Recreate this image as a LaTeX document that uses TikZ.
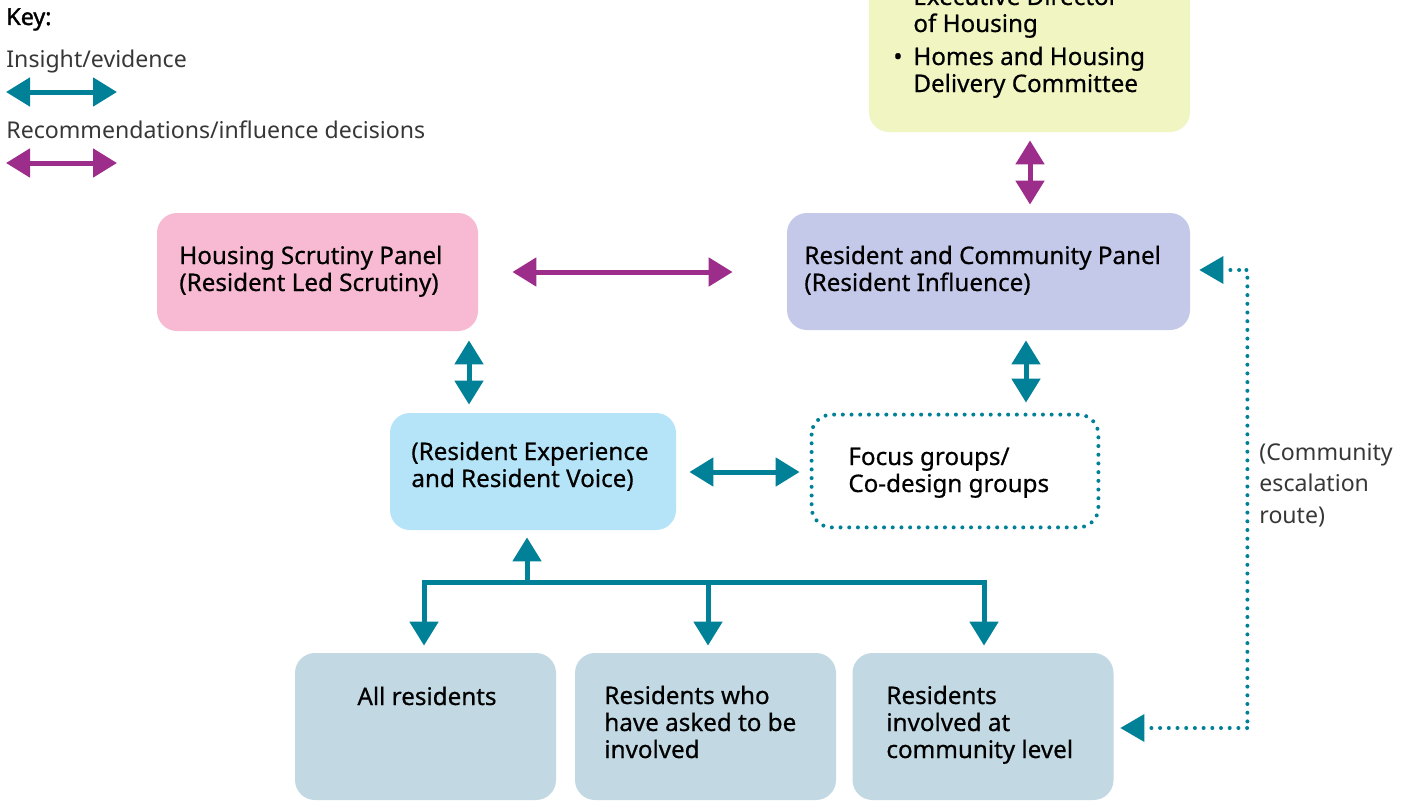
\documentclass[tikz,border=0pt]{standalone}
\usepackage{fontspec}
\setmainfont{Noto Sans}
\newfontfamily\medfont[FakeBold=0.6]{Noto Sans}
\newfontfamily\keyfont[FakeBold=1.6]{Noto Sans}
\usetikzlibrary{arrows.meta,calc}
\definecolor{teal}{RGB}{0,129,152}
\definecolor{magen}{RGB}{156,45,138}
\definecolor{pinkbox}{RGB}{247,186,210}
\definecolor{lavbox}{RGB}{197,201,233}
\definecolor{yelbox}{RGB}{241,245,193}
\definecolor{bluebox}{RGB}{181,228,249}
\definecolor{greybox}{RGB}{194,217,227}
\definecolor{keytext}{RGB}{55,55,55}
\newcommand\pxu{0.5pt}
\tikzset{
  box/.style={draw=none, rounded corners=10pt, inner sep=0pt, rectangle},
  txt/.style={anchor=base west, align=left, inner sep=0pt, text=black,
    font=\medfont\fontsize{12.1}{13.5}\selectfont},
  lighttxt/.style={anchor=base west, align=left, inner sep=0pt, text=keytext,
    font=\fontsize{11.55}{15.75}\selectfont},
  ins/.style={draw=teal, line width=2.5pt},
  rec/.style={draw=magen, line width=2.5pt},
  tip/.style={-{Triangle[length=12pt,width=14pt]}},
  bitip/.style={{Triangle[length=12pt,width=14pt]}-{Triangle[length=12pt,width=14pt]}},
  dots/.style={draw=teal, line width=2pt, line cap=round, dash pattern=on 0pt off 4.35pt},
}
\begin{document}
\begin{tikzpicture}[x=\pxu, y=-\pxu]
\useasboundingbox (0,0) rectangle (1403,803);
\fill[white] (0,0) rectangle (1403,803);
\begin{scope}
\clip (0,0) rectangle (1403,803);
% boxes
\node[box, fill=yelbox, minimum width=321*\pxu, minimum height=212*\pxu] (top) at (1029.5,26) {};
\node[box, fill=lavbox, minimum width=403*\pxu, minimum height=117*\pxu] (rcp) at (988.5,271.5) {};
\node[box, fill=pinkbox, minimum width=321*\pxu, minimum height=118*\pxu] (hsp) at (317.5,272) {};
\node[box, fill=bluebox, minimum width=286*\pxu, minimum height=117*\pxu] (rex) at (533,471.5) {};
\node[box, minimum width=286*\pxu, minimum height=112*\pxu] (foc) at (955,471) {};
\draw[dots, rounded corners=10pt] (foc.north west) rectangle (foc.south east);
\node[box, fill=greybox, minimum width=261*\pxu, minimum height=147*\pxu] (b1) at (425.5,726.5) {};
\node[box, fill=greybox, minimum width=261*\pxu, minimum height=147*\pxu] (b2) at (705.5,726.5) {};
\node[box, fill=greybox, minimum width=261*\pxu, minimum height=147*\pxu] (b3) at (983,726.5) {};

% texts (base anchor = baseline of last line)
\node[txt] (t1a) at (893,5) {\textbullet};
\node[txt] (t1) at (913,32) {Executive Director\\of Housing};
\node[txt] (t2a) at (893,65) {\textbullet};
\node[txt] (t2) at (913,92) {Homes and Housing\\Delivery Committee};
\node[txt] (trcp) at (804,291) {Resident and Community Panel\\(Resident Influence)};
\node[txt] (thsp) at (179,291) {Housing Scrutiny Panel\\(Resident Led Scrutiny)};
\node[txt] (trex) at (411,487) {(Resident Experience\\and Resident Voice)};
\node[txt] (tfoc) at (848,492) {Focus groups/\\Co-design groups};
\node[txt, anchor=base] (tb1) at (427,705) {All residents};
\node[txt] (tb2) at (604,758) {Residents who\\have asked to be\\involved};
\node[txt] (tb3) at (886,758) {Residents\\involved at\\community level};
\node[lighttxt] (tesc) at (1259,523) {(Community\\escalation\\route)};

% key
\node[lighttxt, text=black, font=\keyfont\fontsize{11.6}{13.5}\selectfont] (key) at (6,25) {Key:};
\node[lighttxt] (kins) at (6,67) {Insight/evidence};
\node[lighttxt] (krec) at (6,138) {Recommendations/influence decisions};
\coordinate (ka1) at (6,92);
\coordinate (ka2) at (117,92);
\coordinate (kb1) at (6,163);
\coordinate (kb2) at (117,163);
\draw[ins, bitip] (ka1) -- (ka2);
\draw[rec, bitip] (kb1) -- (kb2);

% connectors
\draw[rec, bitip] ($(top.south)+(0.5,8)$) -- ($(rcp.north)+(41.5,-8)$);
\draw[rec, bitip] ($(hsp.east)+(34,0)$) -- ($(rcp.west)+(-54,0.5)$);
\draw[ins, bitip] ($(hsp.south)+(151.5,9)$) -- ($(rex.north)+(-64,-8)$);
\draw[ins, bitip] ($(rcp.south)+(37.5,10)$) -- ($(foc.north)+(71,-12)$);
\draw[ins, bitip] ($(rex.east)+(13,0.5)$) -- ($(foc.west)+(-12,1)$);
% tree
\draw[ins, bitip] ($(b1.north)+(-1.5,-7)$) |- ($(b3.north)+(1,-70)$) -- ($(b3.north)+(1,-7)$);
\draw[ins, tip] ($(b2.north)+(2.5,-70)$) -- ($(b2.north)+(2.5,-7)$);
\draw[ins, tip] ($(rex.south)+(-6,53)$) -- ($(rex.south)+(-6,7)$);
% escalation route
\coordinate (esctop) at ($(rcp.east)+(56,-1.5)$);
\coordinate (escbot) at ($(b3.east)+(133.5,1.5)$);
\draw[dots] (esctop) -- (esctop -| escbot) -- (escbot);
\fill[teal] ($(rcp.east)+(9,-1.5)$) -- ++(24,-14) -- ++(0,28) -- cycle;
\fill[teal] ($(b3.east)+(6.5,1.5)$) -- ++(24,-14) -- ++(0,28) -- cycle;
\draw[dots] ($(rcp.east)+(40,-1.5)$) -- (esctop);
\draw[dots] ($(b3.east)+(37.5,1.5)$) -- (escbot);
\end{scope}
\end{tikzpicture}
\end{document}
